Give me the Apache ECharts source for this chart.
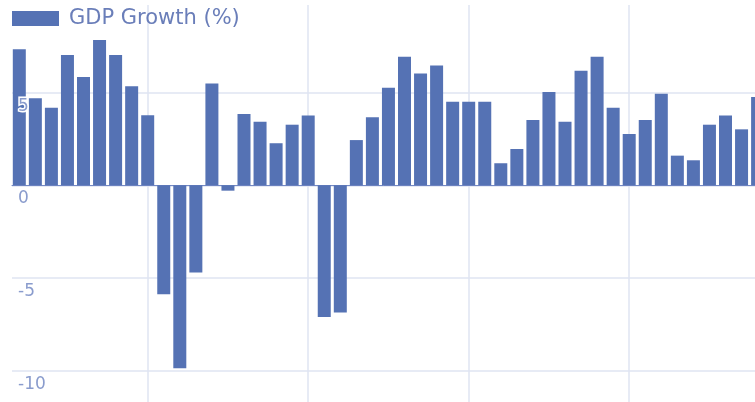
<!DOCTYPE html>
<html>
<head>
<meta charset="utf-8">
<script src="https://cdn.jsdelivr.net/npm/echarts@6/dist/echarts.min.js"></script>
<style>
html,body{margin:0;padding:0;background:#ffffff;}
#chart{width:755px;height:402px;}
</style>
</head>
<body>
<div id="chart"></div>
<script>
const years = [1962,1963,1964,1965,1966,1967,1968,1969,1970,1971,1972,1973,1974,1975,1976,1977,1978,1979,1980,1981,1982,1983,1984,1985,1986,1987,1988,1989,1990,1991,1992,1993,1994,1995,1996,1997,1998,1999,2000,2001,2002,2003,2004,2005,2006,2007,2008];
const gdpGrowth = [7.34,4.70,4.19,7.03,5.84,7.84,7.03,5.34,3.78,-5.88,-9.88,-4.70,5.50,-0.29,3.85,3.43,2.27,3.27,3.76,-7.11,-6.87,2.44,3.67,5.27,6.94,6.04,6.46,4.51,4.51,4.51,1.19,1.96,3.52,5.03,3.43,6.18,6.94,4.19,2.77,3.52,4.94,1.60,1.35,3.27,3.76,3.02,4.77];
const seriesName = 'GDP Growth (%)';
const xRange = [1961.545, 2010];
const xGridRange = [1960, 2010];
const yRange = [-15, 9.73];

const chart = echarts.init(document.getElementById('chart'), null, {renderer: 'canvas'});
const pxPerYear = 16.05;
const pxPerUnit = 18.53;
const plotLeft = 12;
const plotTop = 5;
const gridColor = '#dfe5f2';
const plotHeight = (yRange[1] - yRange[0]) * pxPerUnit;
const yAxisCommon = {
  type: 'value', min: yRange[0], max: yRange[1], interval: 5, position: 'left'
};
chart.setOption({
  animation: false,
  backgroundColor: '#ffffff',
  grid: [
    {
      left: plotLeft, top: plotTop,
      width: (xRange[1] - xRange[0]) * pxPerYear,
      height: plotHeight,
      outerBoundsMode: 'none', containLabel: false
    },
    {
      left: plotLeft - (xRange[0] - xGridRange[0]) * pxPerYear, top: plotTop,
      width: (xGridRange[1] - xGridRange[0]) * pxPerYear,
      height: plotHeight,
      outerBoundsMode: 'none', containLabel: false
    }
  ],
  legend: {
    show: true, left: 12, top: 8, padding: 0,
    itemWidth: 47, itemHeight: 15, icon: 'rect',
    data: [seriesName],
    textStyle: {fontFamily: 'DejaVu Sans', fontSize: 21, color: '#6a7eb9', padding: [0, 0, 0, 5]}
  },
  xAxis: [
    {
      gridIndex: 0, type: 'value', min: xRange[0], max: xRange[1],
      axisLabel: {show: false}, axisTick: {show: false},
      axisLine: {show: true, onZero: true, lineStyle: {color: '#7489c4', width: 1}},
      splitLine: {show: false}
    },
    {
      gridIndex: 1, type: 'value', min: xGridRange[0], max: xGridRange[1], interval: 10,
      axisLabel: {show: false}, axisTick: {show: false}, axisLine: {show: false},
      splitLine: {show: true, showMinLine: false, showMaxLine: false, lineStyle: {color: gridColor, width: 1.5}}
    }
  ],
  yAxis: [
    Object.assign({}, yAxisCommon, {
      gridIndex: 0,
      axisLabel: {show: false}, axisTick: {show: false}, axisLine: {show: false},
      splitLine: {show: true, showMaxLine: false, lineStyle: {color: gridColor, width: 1.5}}
    }),
    Object.assign({}, yAxisCommon, {
      gridIndex: 0, z: 10,
      axisTick: {show: false}, axisLine: {show: false}, splitLine: {show: false},
      axisLabel: {
        inside: true, margin: 6, showMaxLabel: false,
        verticalAlign: 'top', padding: [5, 0, 0, 0],
        fontFamily: 'DejaVu Sans', fontSize: 17, color: '#8a9ccd',
        textBorderColor: '#ffffff', textBorderWidth: 3
      }
    }),
    Object.assign({}, yAxisCommon, {
      gridIndex: 1, show: false
    })
  ],
  series: [{
    name: seriesName, type: 'bar', xAxisIndex: 0, yAxisIndex: 0,
    barWidth: 13,
    itemStyle: {color: '#5572b4'},
    data: years.map((y, i) => [y, gdpGrowth[i]])
  }]
});
</script>
</body>
</html>
